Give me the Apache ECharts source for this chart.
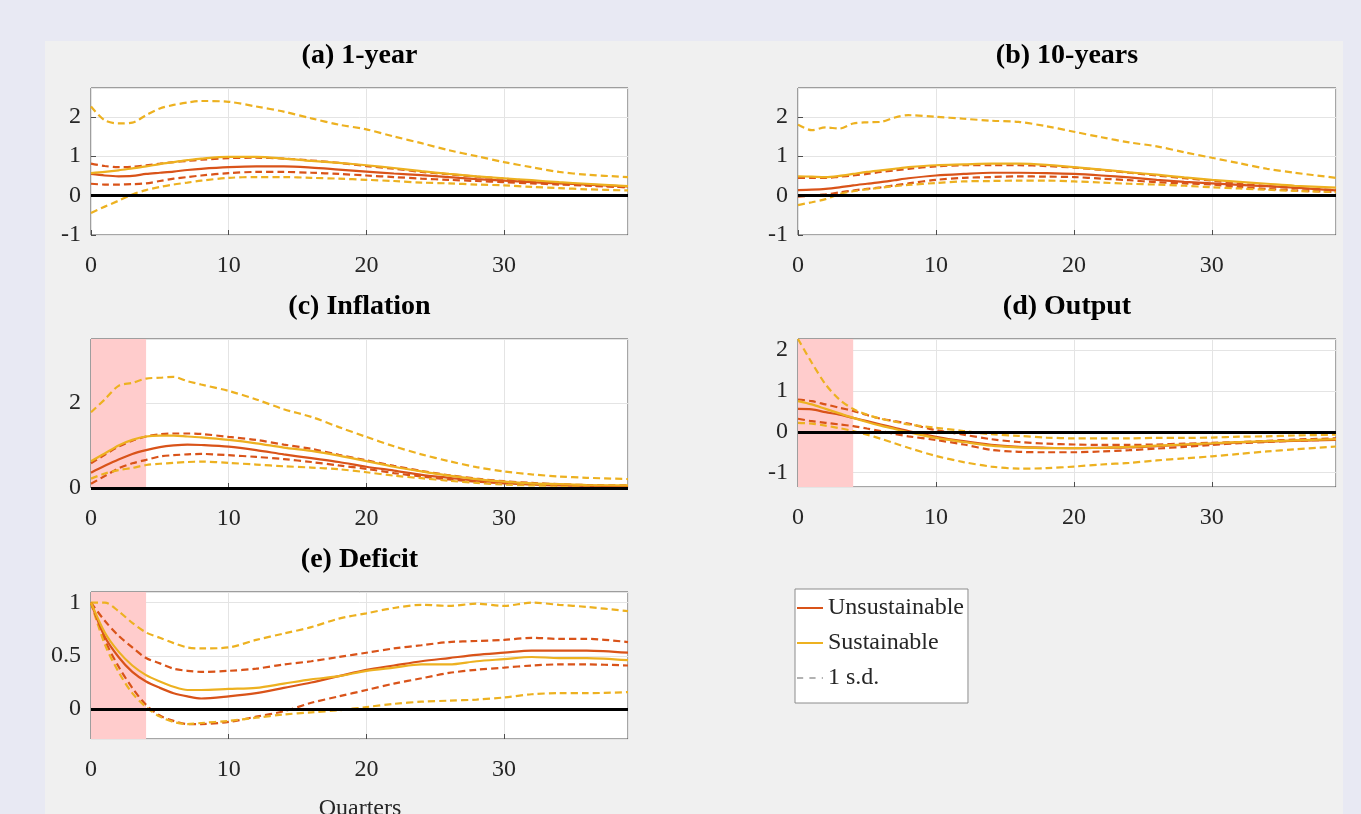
<!DOCTYPE html>
<html>
<head>
<meta charset="utf-8">
<script src="https://cdn.jsdelivr.net/npm/echarts@6/dist/echarts.min.js"></script>
<style>
html,body{margin:0;padding:0;background:#e8e9f3;}
#main{width:1361px;height:814px;}
</style>
</head>
<body>
<div id="main"></div>
<script>
// quarters after the shock
var quarters = [0,1,2,3,4,5,6,7,8,10,12,14,16,18,20,22,24,26,28,30,32,34,36,39];

// (a) 1-year
var aUns   = [0.55,0.51,0.49,0.50,0.55,0.58,0.61,0.65,0.68,0.72,0.74,0.74,0.71,0.66,0.61,0.56,0.52,0.47,0.42,0.38,0.34,0.31,0.28,0.23];
var aUnsHi = [0.81,0.75,0.72,0.73,0.77,0.81,0.85,0.88,0.91,0.95,0.96,0.94,0.89,0.83,0.75,0.68,0.60,0.54,0.48,0.43,0.37,0.32,0.27,0.21];
var aUnsLo = [0.30,0.28,0.28,0.29,0.31,0.37,0.43,0.47,0.51,0.57,0.60,0.60,0.58,0.55,0.51,0.47,0.43,0.40,0.37,0.34,0.31,0.28,0.25,0.21];
var aSus   = [0.57,0.60,0.64,0.69,0.74,0.80,0.85,0.90,0.94,0.98,0.98,0.94,0.88,0.83,0.77,0.70,0.62,0.55,0.49,0.44,0.39,0.34,0.30,0.24];
var aSusHi = [2.26,1.91,1.83,1.85,2.04,2.21,2.30,2.36,2.40,2.38,2.26,2.13,1.96,1.80,1.68,1.50,1.33,1.15,1.00,0.85,0.72,0.60,0.53,0.47];
var aSusLo = [-0.44,-0.28,-0.13,0.03,0.14,0.22,0.28,0.33,0.38,0.45,0.47,0.47,0.45,0.43,0.40,0.37,0.33,0.31,0.28,0.26,0.22,0.19,0.16,0.13];

// (b) 10-years
var bUns   = [0.14,0.15,0.17,0.21,0.26,0.30,0.34,0.39,0.44,0.51,0.55,0.58,0.58,0.57,0.55,0.51,0.46,0.40,0.35,0.31,0.27,0.24,0.20,0.13];
var bUnsHi = [0.45,0.45,0.45,0.48,0.51,0.55,0.60,0.64,0.68,0.74,0.77,0.77,0.77,0.75,0.71,0.65,0.58,0.51,0.44,0.38,0.30,0.24,0.19,0.14];
var bUnsLo = [-0.03,0.00,0.03,0.08,0.13,0.17,0.21,0.26,0.31,0.40,0.45,0.47,0.49,0.48,0.47,0.43,0.39,0.34,0.31,0.28,0.22,0.17,0.13,0.09];
var bSus   = [0.49,0.48,0.47,0.50,0.55,0.60,0.64,0.68,0.72,0.77,0.79,0.81,0.81,0.78,0.72,0.66,0.59,0.53,0.46,0.40,0.35,0.30,0.25,0.20];
var bSusHi = [1.80,1.66,1.73,1.70,1.83,1.86,1.87,1.98,2.04,2.00,1.95,1.90,1.87,1.76,1.62,1.48,1.35,1.25,1.10,0.96,0.82,0.68,0.58,0.45];
var bSusLo = [-0.24,-0.17,-0.09,0.04,0.11,0.16,0.20,0.24,0.27,0.32,0.36,0.37,0.38,0.38,0.36,0.33,0.30,0.28,0.25,0.21,0.18,0.15,0.12,0.09];

// (c) Inflation
var cUns   = [0.36,0.52,0.67,0.80,0.89,0.96,1.00,1.02,1.01,0.97,0.89,0.79,0.70,0.61,0.50,0.41,0.31,0.24,0.17,0.13,0.10,0.08,0.06,0.04];
var cUnsHi = [0.58,0.78,0.97,1.11,1.21,1.26,1.28,1.28,1.27,1.20,1.13,1.02,0.92,0.78,0.65,0.52,0.40,0.30,0.22,0.16,0.12,0.09,0.07,0.06];
var cUnsLo = [0.10,0.28,0.46,0.58,0.66,0.74,0.77,0.79,0.80,0.77,0.73,0.68,0.61,0.53,0.45,0.35,0.27,0.20,0.15,0.11,0.08,0.06,0.05,0.04];
var cSus   = [0.63,0.81,1.00,1.13,1.21,1.23,1.23,1.21,1.19,1.13,1.05,0.95,0.87,0.76,0.63,0.50,0.39,0.29,0.21,0.15,0.11,0.09,0.07,0.06];
var cSusHi = [1.78,2.08,2.40,2.47,2.57,2.59,2.61,2.51,2.43,2.28,2.08,1.85,1.67,1.43,1.20,0.98,0.79,0.63,0.49,0.39,0.32,0.27,0.24,0.21];
var cSusLo = [0.22,0.34,0.42,0.47,0.54,0.57,0.59,0.61,0.62,0.59,0.55,0.51,0.48,0.44,0.37,0.29,0.23,0.17,0.12,0.08,0.06,0.05,0.04,0.02];

// (d) Output
var dUns   = [0.56,0.55,0.48,0.42,0.34,0.26,0.18,0.10,0.02,-0.12,-0.23,-0.32,-0.37,-0.39,-0.40,-0.39,-0.38,-0.35,-0.32,-0.29,-0.26,-0.24,-0.22,-0.20];
var dUnsHi = [0.79,0.75,0.67,0.59,0.51,0.41,0.32,0.26,0.20,0.04,-0.07,-0.18,-0.25,-0.29,-0.31,-0.32,-0.32,-0.31,-0.29,-0.27,-0.25,-0.22,-0.19,-0.16];
var dUnsLo = [0.32,0.26,0.22,0.18,0.14,0.08,0.02,-0.05,-0.11,-0.20,-0.31,-0.44,-0.49,-0.50,-0.50,-0.48,-0.45,-0.41,-0.37,-0.32,-0.28,-0.25,-0.22,-0.19];
var dSus   = [0.75,0.67,0.56,0.45,0.34,0.24,0.15,0.07,-0.01,-0.15,-0.25,-0.34,-0.38,-0.40,-0.40,-0.39,-0.37,-0.34,-0.31,-0.28,-0.25,-0.23,-0.21,-0.18];
var dSusHi = [2.27,1.69,1.16,0.79,0.56,0.42,0.32,0.25,0.18,0.10,0.02,-0.06,-0.10,-0.14,-0.16,-0.16,-0.16,-0.15,-0.15,-0.14,-0.12,-0.11,-0.09,-0.07];
var dSusLo = [0.22,0.20,0.15,0.09,0.02,-0.07,-0.17,-0.28,-0.39,-0.59,-0.74,-0.85,-0.90,-0.89,-0.85,-0.80,-0.76,-0.70,-0.65,-0.60,-0.54,-0.48,-0.43,-0.36];

// (e) Deficit
var eUns   = [1.00,0.68,0.49,0.35,0.26,0.20,0.15,0.12,0.10,0.12,0.15,0.20,0.25,0.31,0.37,0.41,0.45,0.48,0.51,0.53,0.55,0.55,0.55,0.53];
var eUnsHi = [1.00,0.83,0.69,0.58,0.48,0.43,0.38,0.36,0.35,0.36,0.38,0.42,0.45,0.49,0.53,0.57,0.60,0.63,0.64,0.65,0.67,0.66,0.66,0.63];
var eUnsLo = [1.00,0.65,0.40,0.20,0.04,-0.06,-0.11,-0.14,-0.14,-0.12,-0.07,-0.02,0.06,0.12,0.18,0.24,0.29,0.34,0.37,0.39,0.41,0.42,0.42,0.41];
var eSus   = [1.00,0.72,0.54,0.41,0.32,0.26,0.21,0.18,0.18,0.19,0.20,0.24,0.28,0.31,0.36,0.39,0.42,0.42,0.45,0.47,0.49,0.48,0.48,0.46];
var eSusHi = [1.00,1.00,0.92,0.81,0.72,0.67,0.62,0.58,0.57,0.58,0.65,0.71,0.77,0.85,0.90,0.95,0.98,0.97,0.99,0.97,1.00,0.98,0.96,0.92];
var eSusLo = [1.00,0.61,0.35,0.15,0.02,-0.07,-0.12,-0.14,-0.13,-0.11,-0.08,-0.05,-0.03,-0.01,0.02,0.05,0.07,0.08,0.09,0.11,0.14,0.15,0.15,0.16];

var RED = '#d95319';
var YEL = '#edb120';
var FONT = 'Liberation Serif';

var panels = [
  {title: '(a) 1-year', left: 91, top: 88, width: 537, height: 147, ymin: -1, ymax: 2.73, interval: 1, shade: false,
   lines: [aUnsHi, aUnsLo, aSusHi, aSusLo, aUns, aSus]},
  {title: '(b) 10-years', left: 798, top: 88, width: 538, height: 147, ymin: -1, ymax: 2.73, interval: 1, shade: false,
   lines: [bUnsHi, bUnsLo, bSusHi, bSusLo, bUns, bSus]},
  {title: '(c) Inflation', left: 91, top: 339, width: 537, height: 149, ymin: 0, ymax: 3.5, interval: 2, shade: true,
   lines: [cUnsHi, cUnsLo, cSusHi, cSusLo, cUns, cSus]},
  {title: '(d) Output', left: 798, top: 339, width: 538, height: 148, ymin: -1.35, ymax: 2.27, split: 4, shade: true,
   lines: [dUnsHi, dUnsLo, dSusHi, dSusLo, dUns, dSus]},
  {title: '(e) Deficit', left: 91, top: 592, width: 537, height: 147, ymin: -0.28, ymax: 1.1, split: 3, shade: true,
   lines: [eUnsHi, eUnsLo, eSusHi, eSusLo, eUns, eSus]}
];

function pairs(vals) {
  return quarters.map(function (q, i) { return [q, vals[i]]; });
}

var grids = [], xAxes = [], yAxes = [], titles = [], series = [];

panels.forEach(function (p, k) {
  grids.push({
    left: p.left, top: p.top, width: p.width, height: p.height,
    show: true, backgroundColor: '#fff', borderColor: '#4d4d4d', borderWidth: 1
  });
  xAxes.push({
    gridIndex: k, type: 'value', min: 0, max: 39, interval: 10,
    axisLine: {show: false, onZero: false},
    axisTick: {inside: true, length: 5, lineStyle: {color: '#4d4d4d'}},
    axisLabel: {fontFamily: FONT, fontSize: 24, color: '#262626', margin: 19, showMaxLabel: false},
    splitLine: {lineStyle: {color: '#e4e4e4'}}
  });
  var ya = {
    gridIndex: k, type: 'value', min: p.ymin, max: p.ymax,
    axisLine: {show: false, onZero: false},
    axisTick: {inside: true, length: 5, lineStyle: {color: '#4d4d4d'}},
    axisLabel: {fontFamily: FONT, fontSize: 24, color: '#262626', margin: 10,
                showMaxLabel: false, showMinLabel: p.ymin === Math.round(p.ymin)},
    splitLine: {lineStyle: {color: '#e4e4e4'}}
  };
  if (p.interval) ya.interval = p.interval; else ya.splitNumber = p.split;
  yAxes.push(ya);
  titles.push({
    text: p.title, left: p.left + p.width / 2, top: p.top - 46, textAlign: 'center', padding: 0,
    textStyle: {fontFamily: FONT, fontWeight: 'bold', fontSize: 28, color: '#000'}
  });

  if (p.shade) {
    series.push({
      type: 'line', xAxisIndex: k, yAxisIndex: k, data: [], z: 1, silent: true,
      markArea: {silent: true, itemStyle: {color: '#ffcccc', opacity: 1},
                 data: [[{xAxis: 0}, {xAxis: 4}]]}
    });
  }

  var styles = [
    {name: '1 s.d.', color: RED, dash: true},
    {name: '1 s.d.', color: RED, dash: true},
    {name: '1 s.d.', color: YEL, dash: true},
    {name: '1 s.d.', color: YEL, dash: true},
    {name: 'Unsustainable', color: RED, dash: false},
    {name: 'Sustainable', color: YEL, dash: false}
  ];
  p.lines.forEach(function (vals, i) {
    var s = styles[i];
    series.push({
      name: s.name, type: 'line', xAxisIndex: k, yAxisIndex: k,
      data: pairs(vals), symbol: 'none', smooth: 0.3, z: 2,
      itemStyle: {color: s.color},
      lineStyle: {color: s.color, width: 2.2, type: s.dash ? [7, 4] : 'solid'},
      animation: false
    });
  });
  // zero line on top
  series.push({
    type: 'line', xAxisIndex: k, yAxisIndex: k, data: [], z: 3, silent: true,
    markLine: {silent: true, symbol: 'none', label: {show: false},
               lineStyle: {color: '#000', width: 3, type: 'solid'},
               data: [{yAxis: 0}]},
    animation: false
  });
});

titles.push({
  text: 'Quarters', left: 360, top: 797, textAlign: 'center', padding: 0,
  textStyle: {fontFamily: FONT, fontWeight: 'normal', fontSize: 24, color: '#262626'}
});

var chart = echarts.init(document.getElementById('main'));
chart.setOption({
  animation: false,
  backgroundColor: 'transparent',
  graphic: [{type: 'rect', z: -10, shape: {x: 45, y: 41, width: 1298, height: 780}, style: {fill: '#f0f0f0'}}],
  title: titles,
  grid: grids,
  xAxis: xAxes,
  yAxis: yAxes,
  legend: {
    left: 795, top: 589, orient: 'vertical', selectedMode: false,
    backgroundColor: '#fff', borderColor: '#8c8c8c', borderWidth: 1, borderRadius: 0,
    padding: [7, 4, 13, 2], itemWidth: 26, itemHeight: 14, itemGap: 11,
    textStyle: {fontFamily: FONT, fontSize: 24, color: '#262626'},
    data: [
      {name: 'Unsustainable', icon: 'path://M0,6 L26,6 L26,8 L0,8 Z', itemStyle: {color: RED}},
      {name: 'Sustainable', icon: 'path://M0,6 L26,6 L26,8 L0,8 Z', itemStyle: {color: YEL}},
      {name: '1 s.d.', icon: 'path://M0,6.5 L5,6.5 L5,7.5 L0,7.5 Z M10,6.5 L15,6.5 L15,7.5 L10,7.5 Z M20,6.5 L21,6.5 L21,7.5 L20,7.5 Z', itemStyle: {color: '#666'}}
    ]
  },
  series: series
});
</script>
</body>
</html>
